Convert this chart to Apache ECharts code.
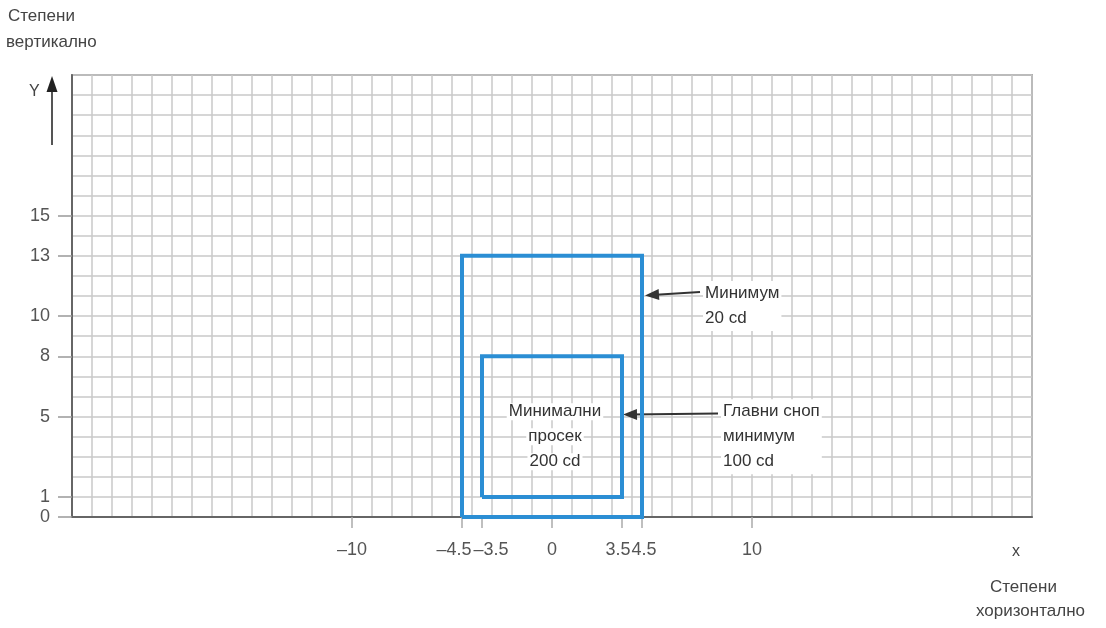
<!DOCTYPE html>
<html>
<head>
<meta charset="utf-8">
<script src="https://cdn.jsdelivr.net/npm/echarts@6/dist/echarts.min.js"></script>
<style>
  html, body { margin: 0; padding: 0; background: #fff; }
  #main { width: 1106px; height: 628px; }
</style>
</head>
<body>
<div id="main"></div>
<script>
// Опсег оса (степени)
var xMin = -24, xMax = 24;
var yMin = 0, yMax = 22;

// Ознаке на осама
var xTicks = [-10, -4.5, -3.5, 0, 3.5, 4.5, 10];
var yTicks = [0, 1, 5, 8, 10, 13, 15];

// Спољни правоугаоник (главни сноп)
var outerX = [-4.5, -4.5, 4.5, 4.5, -4.5];
var outerY = [0, 13, 13, 0, 0];

// Унутрашњи правоугаоник (минимални просек)
var innerX = [-3.5, -3.5, 3.5, 3.5, -3.5];
var innerY = [1, 8, 8, 1, 1];

// Стрелице ка правоугаоницима [почетак, врх]
var arrowOuter = [[7.4, 11.2], [5.0, 11.05]];
var arrowInner = [[8.3, 5.15], [3.9, 5.1]];

// Натписи
var labelOuter = { pos: [7.55, 10.5], text: 'Минимум\n20 cd' };
var labelBeam = { pos: [8.45, 4.0], text: 'Главни сноп\nминимум\n100 cd' };
var labelInner = { pos: [0.15, 4.0], lines: ['Минимални', 'просек', '200 cd'] };

function zip(xs, ys) {
	var out = [];
	for (var i = 0; i < xs.length; i++) {
		out.push([xs[i], ys[i]]);
	}
	return out;
}

var font = '"Liberation Sans", Arial, sans-serif';
var blue = '#2b8ed4';

// Збијене ознаке 3.5/4.5 су мало померене у страну, као на оригиналу
function xLabel(v) {
	var txt = v < 0 ? '\u2013' + Math.abs(v) : String(v);
	if (v === -4.5) return '{sl|' + txt + '}';
	if (v === -3.5) return '{sr|' + txt + '}';
	if (v === 3.5) return '{tl|' + txt + '}';
	if (v === 4.5) return '{tr|' + txt + '}';
	return txt;
}

var labelFont = { fontSize: 18, color: '#555', fontFamily: font };

var myChart = echarts.init(document.getElementById('main'));

var option = {
	animation: false,
	textStyle: { fontFamily: font },
	grid: {
		left: 72, right: 74, top: 75, bottom: 111,
		show: true, borderColor: '#707070', borderWidth: 1.5,
		containLabel: false
	},
	xAxis: [
		{
			// мрежа на сваки степен
			type: 'value', position: 'bottom',
			min: xMin, max: xMax, interval: 1,
			axisLine: { show: true, onZero: false, lineStyle: { color: '#666', width: 2 } },
			axisTick: { show: false },
			axisLabel: { show: false },
			splitLine: { show: true, lineStyle: { color: '#c8c8c8', width: 1.5 } }
		},
		{
			// ознаке
			type: 'value', position: 'bottom',
			min: xMin, max: xMax,
			axisLine: { show: false, onZero: false },
			axisTick: {
				show: true, customValues: xTicks, length: 11,
				lineStyle: { color: '#aaa', width: 1.5 }
			},
			axisLabel: {
				customValues: xTicks, margin: 24,
				fontSize: 18, color: '#555', fontFamily: font,
				formatter: xLabel,
				rich: {
					sl: Object.assign({ padding: [0, 16, 0, 0] }, labelFont),
					sr: Object.assign({ padding: [0, 0, 0, 18] }, labelFont),
					tl: Object.assign({ padding: [0, 8, 0, 0] }, labelFont),
					tr: Object.assign({ padding: [0, 0, 0, 4] }, labelFont)
				}
			},
			splitLine: { show: false }
		}
	],
	yAxis: [
		{
			type: 'value', position: 'left',
			min: yMin, max: yMax, interval: 1,
			axisLine: { show: true, onZero: false, lineStyle: { color: '#666', width: 2 } },
			axisTick: { show: false },
			axisLabel: { show: false },
			splitLine: { show: true, lineStyle: { color: '#c8c8c8', width: 1.5 } }
		},
		{
			type: 'value', position: 'left',
			min: yMin, max: yMax,
			axisLine: { show: false, onZero: false },
			axisTick: {
				show: true, customValues: yTicks, length: 14,
				lineStyle: { color: '#999', width: 1.5 }
			},
			axisLabel: {
				customValues: yTicks, margin: 22,
				fontSize: 18, color: '#555', fontFamily: font
			},
			splitLine: { show: false }
		}
	],
	series: [
		{
			name: 'Главни сноп',
			type: 'line',
			xAxisIndex: 0, yAxisIndex: 0,
			data: zip(outerX, outerY),
			symbol: 'none',
			clip: false,
			z: 5,
			lineStyle: { color: blue, width: 4, join: 'miter' },
			markLine: {
				silent: true,
				symbol: ['none', 'triangle'],
				symbolSize: [11, 14],
				label: { show: false },
				lineStyle: { color: '#333', width: 2, type: 'solid' },
				data: [
					[{ coord: arrowOuter[0] }, { coord: arrowOuter[1] }],
					[{ coord: arrowInner[0] }, { coord: arrowInner[1] }]
				]
			},
			markPoint: {
				silent: true,
				symbol: 'rect',
				symbolSize: 0,
				data: [
					{
						coord: labelOuter.pos,
						label: {
							show: true, position: 'right', distance: 0,
							formatter: labelOuter.text,
							fontSize: 17, lineHeight: 25, color: '#333', fontFamily: font,
							backgroundColor: '#fff', padding: [0, 2, 0, 2], align: 'left'
						}
					},
					{
						coord: labelBeam.pos,
						label: {
							show: true, position: 'right', distance: 0,
							formatter: labelBeam.text,
							fontSize: 17, lineHeight: 25, color: '#333', fontFamily: font,
							backgroundColor: '#fff', padding: [0, 2, 0, 2], align: 'left'
						}
					},
					{
						coord: labelInner.pos,
						label: {
							show: true, position: 'inside',
							formatter: labelInner.lines.map(function (s) { return '{a|' + s + '}'; }).join('\n'),
							align: 'center',
							rich: {
								a: {
									fontSize: 17, lineHeight: 25, color: '#333', fontFamily: font,
									backgroundColor: '#fff', padding: [0, 2, 0, 2], align: 'center'
								}
							}
						}
					}
				]
			}
		},
		{
			name: 'Минимални просек',
			type: 'line',
			xAxisIndex: 0, yAxisIndex: 0,
			data: zip(innerX, innerY),
			symbol: 'none',
			clip: false,
			z: 5,
			lineStyle: { color: blue, width: 4, join: 'miter' }
		}
	],
	graphic: [
		// Натпис вертикалне осе
		{
			type: 'text', left: 8, top: 8,
			style: { text: 'Степени', font: '17px ' + font, fill: '#444' }
		},
		{
			type: 'text', left: 6, top: 34,
			style: { text: 'вертикално', font: '17px ' + font, fill: '#444' }
		},
		{
			type: 'text', left: 29, top: 84,
			style: { text: 'Y', font: '16px ' + font, fill: '#444' }
		},
		// Стрелица Y
		{
			type: 'line', shape: { x1: 52, y1: 145, x2: 52, y2: 88 },
			style: { stroke: '#555', lineWidth: 2 }
		},
		{
			type: 'polygon', shape: { points: [[52, 76], [46.5, 92], [57.5, 92]] },
			style: { fill: '#222' }
		},
		// Натпис хоризонталне осе
		{
			type: 'text', left: 1012, top: 544,
			style: { text: 'x', font: '16px ' + font, fill: '#444' }
		},
		{
			type: 'text', left: 990, top: 579,
			style: { text: 'Степени', font: '17px ' + font, fill: '#444' }
		},
		{
			type: 'text', left: 976, top: 603,
			style: { text: 'хоризонтално', font: '17px ' + font, fill: '#444' }
		}
	]
};

myChart.setOption(option);
</script>
</body>
</html>
